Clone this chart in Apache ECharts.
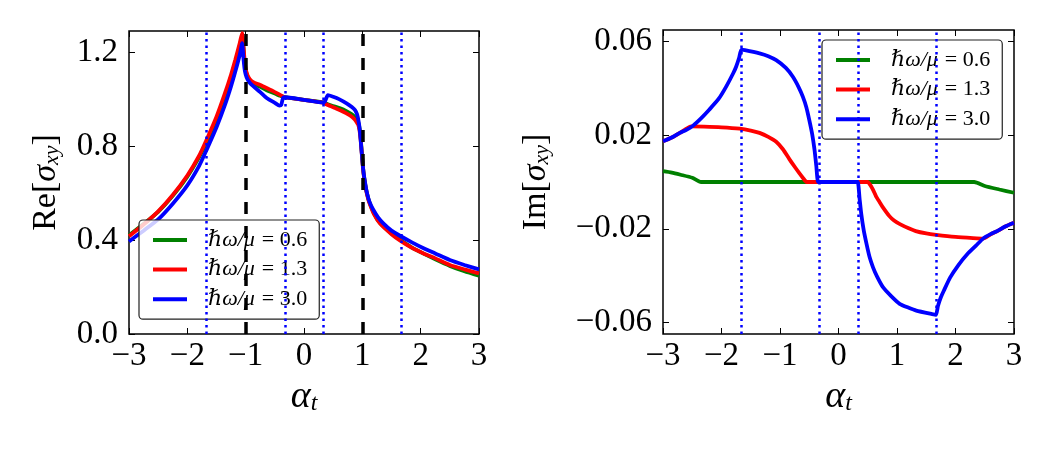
<!DOCTYPE html>
<html>
<head>
<meta charset="utf-8">
<script src="https://cdn.jsdelivr.net/npm/echarts@6/dist/echarts.min.js"></script>
<style>
  html, body { margin: 0; padding: 0; background: #fff; }
  #chart { width: 1050px; height: 450px; }
</style>
</head>
<body>
<div id="chart"></div>
<script>
const names = ['ℏω/μ = 0.6', 'ℏω/μ = 1.3', 'ℏω/μ = 3.0'];
const colors = ['#008000', '#ff0000', '#0000ff'];

const reTicks = [0, 0.4, 0.8, 1.2];
const imTicks = [-0.06, -0.02, 0.02, 0.06];

// vertical guides
const dashedAt = [-1, 1];
const dottedAt = [-1.667, -0.333, 0.333, 1.667];

// Re[sigma_xy]  [alpha_t, value]
const reGreen = [
  [-3, 0.42], [-2.75, 0.468], [-2.5, 0.52], [-2.25, 0.588], [-2, 0.67], [-1.8, 0.752],
  [-1.67, 0.815], [-1.5, 0.915], [-1.355, 1.013], [-1.25, 1.093], [-1.18, 1.153], [-1.1, 1.228],
  [-1.06, 1.27], [-1.04, 1.222], [-1.02, 1.16], [-1.0, 1.122], [-0.97, 1.096], [-0.93, 1.078],
  [-0.87, 1.065], [-0.75, 1.052], [-0.64, 1.038], [-0.5, 1.024], [-0.41, 1.014], [-0.33, 1.008],
  [0, 0.997], [0.33, 0.986], [0.38, 0.981], [0.42, 0.977], [0.52, 0.969], [0.62, 0.961],
  [0.72, 0.95], [0.82, 0.935], [0.87, 0.924], [0.9, 0.914], [0.93, 0.9], [0.95, 0.88],
  [0.97, 0.84], [0.99, 0.775], [1.01, 0.715], [1.03, 0.668], [1.06, 0.622], [1.1, 0.578],
  [1.13, 0.555], [1.2, 0.513], [1.3, 0.474], [1.5, 0.428], [1.675, 0.397], [1.85, 0.368],
  [2.05, 0.342], [2.25, 0.318], [2.5, 0.29], [2.75, 0.267], [3, 0.248]
];
const reRed = [
  [-3, 0.416], [-2.75, 0.466], [-2.5, 0.522], [-2.25, 0.592], [-2, 0.675], [-1.8, 0.758],
  [-1.67, 0.827], [-1.5, 0.925], [-1.355, 1.025], [-1.25, 1.105], [-1.18, 1.165], [-1.1, 1.24],
  [-1.06, 1.281], [-1.04, 1.235], [-1.02, 1.17], [-1.0, 1.13], [-0.97, 1.103], [-0.93, 1.085],
  [-0.87, 1.072], [-0.75, 1.06], [-0.64, 1.047], [-0.5, 1.03], [-0.41, 1.018], [-0.33, 1.008],
  [0, 0.997], [0.33, 0.985], [0.38, 0.978], [0.42, 0.974], [0.52, 0.963], [0.62, 0.953],
  [0.72, 0.94], [0.82, 0.925], [0.87, 0.913], [0.9, 0.903], [0.93, 0.89], [0.95, 0.87],
  [0.97, 0.83], [0.99, 0.77], [1.01, 0.71], [1.03, 0.665], [1.06, 0.618], [1.1, 0.575],
  [1.13, 0.552], [1.2, 0.51], [1.3, 0.471], [1.5, 0.425], [1.675, 0.393], [1.85, 0.367],
  [2.05, 0.343], [2.25, 0.322], [2.5, 0.294], [2.75, 0.275], [3, 0.258]
];
const reBlue = [
  [-3, 0.394], [-2.75, 0.44], [-2.5, 0.488], [-2.25, 0.555], [-2, 0.633], [-1.8, 0.715],
  [-1.67, 0.784], [-1.5, 0.88], [-1.355, 0.975], [-1.25, 1.055], [-1.18, 1.115], [-1.1, 1.19],
  [-1.06, 1.238], [-1.04, 1.18], [-1.02, 1.13], [-1.0, 1.105], [-0.97, 1.085], [-0.93, 1.07],
  [-0.87, 1.055], [-0.75, 1.03], [-0.64, 1.005], [-0.5, 0.984], [-0.42, 0.972], [-0.39, 0.975],
  [-0.36, 1.005], [-0.33, 1.008], [0, 0.997], [0.33, 0.986], [0.36, 0.99], [0.41, 1.017],
  [0.5, 1.01], [0.6, 1.0], [0.73, 0.982], [0.82, 0.966], [0.875, 0.953], [0.91, 0.935],
  [0.94, 0.9], [0.96, 0.86], [0.98, 0.8], [1.0, 0.74], [1.02, 0.69], [1.05, 0.64],
  [1.075, 0.605], [1.12, 0.565], [1.19, 0.528], [1.27, 0.497], [1.36, 0.471], [1.5, 0.44],
  [1.675, 0.414], [1.85, 0.39], [2.05, 0.365], [2.25, 0.343], [2.5, 0.315], [2.75, 0.294],
  [3, 0.275]
];

// Im[sigma_xy]
const imGreen = [
  [-3, 0.0046], [-2.85, 0.004], [-2.7, 0.0031], [-2.5, 0.0018], [-2.35, 0], [2.32, 0],
  [2.5, -0.0017], [2.75, -0.0032], [3, -0.0046]
];
const imRed = [
  [-3, 0.0174], [-2.85, 0.019], [-2.72, 0.0209], [-2.6, 0.0228], [-2.52, 0.0238], [-2.3, 0.0237],
  [-2, 0.0234], [-1.69, 0.0228], [-1.5, 0.022], [-1.35, 0.021], [-1.2, 0.0193], [-1.065, 0.0172],
  [-0.95, 0.014], [-0.84, 0.0098], [-0.74, 0.0062], [-0.67, 0.0038], [-0.6, 0.0015], [-0.56, 0.0003],
  [-0.54, 0], [0.5, 0], [0.53, -0.0008], [0.58, -0.0028], [0.64, -0.006], [0.7, -0.0085],
  [0.75, -0.0105], [0.87, -0.0146], [0.95, -0.0165], [1.05, -0.018], [1.2, -0.0198], [1.32, -0.021],
  [1.5, -0.022], [1.67, -0.0226], [2.0, -0.0235], [2.3, -0.024], [2.47, -0.0242], [2.6, -0.0224],
  [2.72, -0.0209], [2.85, -0.019], [3, -0.0174]
];
const imBlue = [
  [-3, 0.0174], [-2.85, 0.019], [-2.72, 0.0209], [-2.6, 0.0223], [-2.49, 0.024], [-2.35, 0.0272],
  [-2.21, 0.0309], [-2.05, 0.0355], [-1.92, 0.0408], [-1.8, 0.0465], [-1.75, 0.0493], [-1.7, 0.053],
  [-1.66, 0.0566], [-1.6, 0.0564], [-1.35, 0.055], [-1.2, 0.0538], [-1.065, 0.0521], [-0.9, 0.0488],
  [-0.78, 0.045], [-0.68, 0.0405], [-0.61, 0.0365], [-0.55, 0.032], [-0.5, 0.0266], [-0.45, 0.0205],
  [-0.41, 0.0138], [-0.38, 0.007], [-0.35, 0], [-0.32, 0], [0.3, 0], [0.33, 0],
  [0.36, -0.007], [0.39, -0.0138], [0.43, -0.0205], [0.48, -0.0266], [0.53, -0.032], [0.59, -0.0365],
  [0.66, -0.0405], [0.76, -0.045], [0.9, -0.0488], [1.045, -0.0521], [1.2, -0.0538], [1.33, -0.055],
  [1.6, -0.0565], [1.665, -0.0568], [1.7, -0.053], [1.75, -0.0493], [1.8, -0.0465], [1.91, -0.0408],
  [2.05, -0.0355], [2.2, -0.0309], [2.35, -0.0272], [2.48, -0.024], [2.6, -0.0223], [2.72, -0.0209],
  [2.85, -0.019], [3, -0.0174]
];

const serif = "'Liberation Serif', 'DejaVu Serif', serif";
const minus = s => s.replace('-', '\u2212');

const chart = echarts.init(document.getElementById('chart'));

function xAxes(grid) {
  const tick = { inside: true, length: 6, lineStyle: { color: '#000', width: 1 } };
  return [
    {
      gridIndex: grid, type: 'value', min: -3, max: 3, interval: 1, position: 'bottom',
      axisLine: { show: false, onZero: false }, splitLine: { show: false }, axisTick: tick,
      axisLabel: { margin: 6, color: '#000', fontFamily: serif, fontSize: 33,
        formatter: v => minus(String(v)) },
      name: '{a|α}{t|t}', nameLocation: 'middle', nameGap: 44,
      nameTextStyle: { rich: {
        a: { fontFamily: serif, fontStyle: 'italic', fontSize: 38, lineHeight: 38, color: '#000' },
        t: { fontFamily: serif, fontStyle: 'italic', fontSize: 24, lineHeight: 16, verticalAlign: 'bottom', color: '#000' }
      } }
    },
    {
      gridIndex: grid, type: 'value', min: -3, max: 3, interval: 1, position: 'top',
      axisLine: { show: false, onZero: false }, splitLine: { show: false }, axisTick: tick,
      axisLabel: { show: false }
    }
  ];
}

function yAxes(grid, min, max, ticks, digits, title, gap) {
  const tick = { inside: true, length: 6, customValues: ticks, lineStyle: { color: '#000', width: 1 } };
  return [
    {
      gridIndex: grid, type: 'value', min: min, max: max, position: 'left',
      axisLine: { show: false, onZero: false }, splitLine: { show: false }, axisTick: tick,
      axisLabel: { margin: 11, color: '#000', fontFamily: serif, fontSize: 33, customValues: ticks,
        formatter: v => minus(v.toFixed(digits)) },
      name: title, nameLocation: 'middle', nameRotate: 90, nameGap: gap,
      nameTextStyle: { rich: {
        r: { fontFamily: serif, fontSize: 34, lineHeight: 34, color: '#000' },
        s: { fontFamily: serif, fontStyle: 'italic', fontSize: 34, lineHeight: 34, color: '#000' },
        b: { fontFamily: serif, fontStyle: 'italic', fontSize: 22, lineHeight: 14, verticalAlign: 'bottom', color: '#000' }
      } }
    },
    {
      gridIndex: grid, type: 'value', min: min, max: max, position: 'right',
      axisLine: { show: false, onZero: false }, splitLine: { show: false }, axisTick: tick,
      axisLabel: { show: false }
    }
  ];
}

function vlines(xi, yi, withDashed) {
  const data = [];
  if (withDashed) {
    dashedAt.forEach(v => data.push({ xAxis: v, lineStyle: { color: '#000', width: 3.5, type: [12, 12] } }));
  }
  dottedAt.forEach(v => data.push({ xAxis: v, lineStyle: { color: '#0000ff', width: 2.5, type: [2.5, 4] } }));
  return {
    type: 'line', xAxisIndex: xi, yAxisIndex: yi, data: [], z: 1, silent: true,
    markLine: { symbol: ['none', 'none'], silent: true, animation: false, label: { show: false },
      emphasis: { disabled: true }, data: data }
  };
}

function curve(name, color, data, xi, yi) {
  return {
    name: name, type: 'line', xAxisIndex: xi, yAxisIndex: yi, data: data, z: 3,
    showSymbol: false, symbol: 'none', smooth: 0.2,
    lineStyle: { color: color, width: 3.8 }, itemStyle: { color: color },
    emphasis: { disabled: true }
  };
}

function legend(left, top) {
  return {
    data: names, left: left, top: top, orient: 'vertical',
    icon: 'rect', itemWidth: 34, itemHeight: 4, itemGap: 7.6,
    padding: [9, 12, 9, 14],
    backgroundColor: 'rgba(255,255,255,0.8)', borderColor: '#222', borderWidth: 1.2, borderRadius: 4,
    formatter: n => {
      const p = n.split(' = ');
      return '{m|' + p[0] + '}{r|= ' + p[1] + '}';
    },
    textStyle: {
      padding: [0, 0, 0, 16],
      rich: {
        m: { fontFamily: serif, fontStyle: 'italic', fontSize: 22, lineHeight: 24, color: '#000' },
        r: { fontFamily: serif, fontSize: 22, lineHeight: 24, color: '#000', padding: [0, 0, 0, 7] }
      }
    }
  };
}

chart.setOption({
  animation: false,
  backgroundColor: '#fff',
  grid: [
    { left: 129, right: 571, top: 31, bottom: 116, show: true, borderColor: '#000', borderWidth: 1.5, backgroundColor: 'transparent' },
    { left: 663, right: 36, top: 30, bottom: 116, show: true, borderColor: '#000', borderWidth: 1.5, backgroundColor: 'transparent' }
  ],
  xAxis: [...xAxes(0), ...xAxes(1)],
  yAxis: [
    ...yAxes(0, 0, 1.29, reTicks, 1, '{r|Re[}{s|σ}{b|xy}{r|]}', 66),
    ...yAxes(1, -0.065, 0.065, imTicks, 2, '{r|Im[}{s|σ}{b|xy}{r|]}', 110)
  ],
  legend: [legend(139, 220), legend(822, 40)],
  series: [
    vlines(0, 0, true),
    curve(names[0], colors[0], reGreen, 0, 0),
    curve(names[1], colors[1], reRed, 0, 0),
    curve(names[2], colors[2], reBlue, 0, 0),
    vlines(2, 2, false),
    curve(names[0], colors[0], imGreen, 2, 2),
    curve(names[1], colors[1], imRed, 2, 2),
    curve(names[2], colors[2], imBlue, 2, 2)
  ]
});
</script>
</body>
</html>
